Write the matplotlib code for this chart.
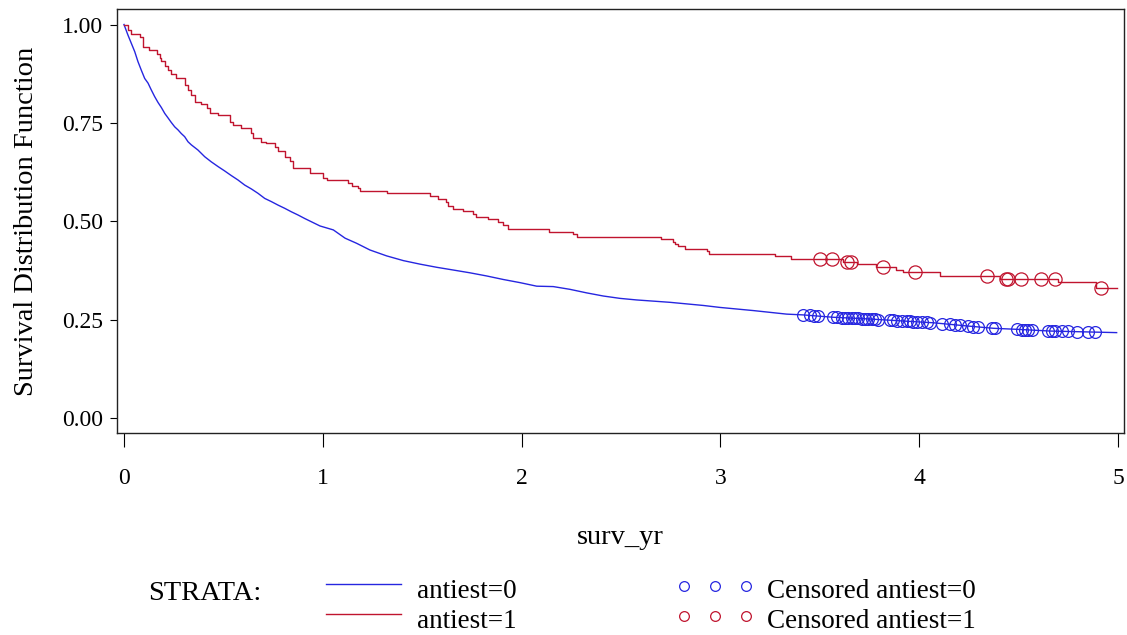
import numpy as np
import matplotlib
matplotlib.use("Agg")
import matplotlib.pyplot as plt

plt.rcParams['font.family'] = ['Liberation Serif', 'DejaVu Serif']

# Kaplan-Meier estimates (time in years, survival)
blue_t = [0, 0.020, 0.037, 0.054, 0.070, 0.087, 0.104, 0.121, 0.137, 0.154,
          0.171, 0.188, 0.205, 0.221, 0.238, 0.255, 0.272, 0.288, 0.305, 0.322,
          0.339, 0.372, 0.406, 0.439, 0.473, 0.506, 0.540, 0.573, 0.607, 0.641,
          0.674, 0.708, 0.741, 0.775, 0.808, 0.842, 0.875, 0.909, 0.986, 1.053,
          1.112, 1.170, 1.237, 1.321, 1.405, 1.489, 1.573, 1.657, 1.740, 1.824,
          1.908, 1.992, 2.076, 2.159, 2.243, 2.327, 2.411, 2.495, 2.579, 2.663,
          2.746, 2.830, 2.914, 2.998, 3.166, 3.333, 3.416, 3.568, 3.736, 3.903,
          4.071, 4.239, 4.373, 4.507, 4.658, 4.825, 4.993]
blue_s = [1.0, 0.973, 0.952, 0.931, 0.906, 0.884, 0.863, 0.851, 0.834, 0.817,
          0.802, 0.789, 0.774, 0.763, 0.751, 0.740, 0.732, 0.723, 0.715, 0.702,
          0.694, 0.681, 0.664, 0.651, 0.639, 0.628, 0.616, 0.605, 0.592, 0.582,
          0.571, 0.558, 0.550, 0.541, 0.533, 0.524, 0.516, 0.507, 0.488, 0.478,
          0.457, 0.444, 0.427, 0.412, 0.400, 0.391, 0.383, 0.376, 0.369, 0.361,
          0.352, 0.344, 0.335, 0.334, 0.327, 0.318, 0.310, 0.304, 0.300, 0.297,
          0.294, 0.290, 0.286, 0.281, 0.273, 0.264, 0.262, 0.256, 0.252, 0.247,
          0.242, 0.234, 0.228, 0.225, 0.221, 0.219, 0.217]

red_t = [0, 0.020, 0.037, 0.079, 0.096, 0.124, 0.168, 0.180, 0.188, 0.205,
         0.221, 0.238, 0.263, 0.305, 0.322, 0.339, 0.355, 0.389, 0.419, 0.431,
         0.473, 0.532, 0.548, 0.590, 0.641, 0.649, 0.691, 0.716, 0.758, 0.774,
         0.808, 0.833, 0.850, 0.934, 1.001, 1.023, 1.128, 1.149, 1.179, 1.187,
         1.321, 1.539, 1.581, 1.620, 1.631, 1.653, 1.704, 1.757, 1.771, 1.833,
         1.880, 1.905, 1.933, 2.139, 2.257, 2.280, 2.700, 2.760, 2.772, 2.788,
         2.822, 2.931, 2.941, 3.275, 3.355, 3.618, 3.686, 3.783, 3.882, 3.917,
         4.105, 4.406, 4.700, 4.889, 4.993]
red_s = [1.0, 0.985, 0.975, 0.967, 0.944, 0.935, 0.924, 0.914, 0.906, 0.895,
         0.884, 0.873, 0.863, 0.846, 0.834, 0.821, 0.804, 0.797, 0.787, 0.776,
         0.770, 0.753, 0.745, 0.738, 0.724, 0.712, 0.702, 0.698, 0.689, 0.679,
         0.664, 0.652, 0.636, 0.622, 0.609, 0.604, 0.596, 0.590, 0.584, 0.578,
         0.571, 0.565, 0.557, 0.550, 0.540, 0.531, 0.527, 0.518, 0.510, 0.506,
         0.499, 0.490, 0.481, 0.473, 0.468, 0.461, 0.456, 0.448, 0.442, 0.436,
         0.429, 0.424, 0.418, 0.412, 0.403, 0.397, 0.391, 0.384, 0.376, 0.370,
         0.362, 0.353, 0.346, 0.330, 0.330]

# censoring times
blue_cens = [3.417, 3.451, 3.472, 3.492, 3.568, 3.585, 3.610, 3.627, 3.643, 3.660,
             3.677, 3.694, 3.711, 3.727, 3.744, 3.761, 3.778, 3.794, 3.853, 3.870,
             3.887, 3.912, 3.937, 3.954, 3.970, 3.987, 4.013, 4.038, 4.054, 4.113,
             4.155, 4.180, 4.205, 4.247, 4.272, 4.297, 4.365, 4.381, 4.490, 4.516,
             4.532, 4.548, 4.566, 4.649, 4.666, 4.683, 4.717, 4.750, 4.792, 4.851,
             4.884]
red_cens = [3.501, 3.562, 3.635, 3.655, 3.820, 3.979, 4.339, 4.437, 4.448, 4.510,
            4.611, 4.683, 4.914]

strata = ["antiest=0", "antiest=1"]
col_blue = "#2626E0"
col_red = "#C0142E"


def surv_at(t, s, c):
    idx = np.searchsorted(t, c, side="right") - 1
    return np.array(s)[idx]


fig = plt.figure(figsize=(11.27, 6.35), dpi=100)
ax = fig.add_axes([117 / 1127, 1 - 433 / 635, 1007 / 1127, 424 / 635])

# the large stratum has many tiny steps, so a plain line reads the same
ax.plot(blue_t, blue_s, color=col_blue, lw=1.0)
ax.plot(red_t, red_s, drawstyle="steps-post", color=col_red, lw=1.0)
ax.plot(blue_cens, np.interp(blue_cens, blue_t, blue_s), "o", mfc="none",
        mec=col_blue, ms=8.5, mew=0.9)
ax.plot(red_cens, surv_at(red_t, red_s, red_cens), "o", mfc="none",
        mec=col_red, ms=9.5, mew=0.9)

ax.set_xlim(-0.0352, 5.030)
ax.set_ylim(-0.0381, 1.0394)
ax.set_xticks([0, 1, 2, 3, 4, 5])
ax.set_xticklabels(["0", "1", "2", "3", "4", "5"])
ax.set_yticks([0, 0.25, 0.5, 0.75, 1.0])
ax.set_yticklabels(["0.00", "0.25", "0.50", "0.75", "1.00"])
ax.tick_params(axis="x", length=10, width=0.8, pad=15, labelsize=17)
ax.tick_params(axis="y", length=5, width=0.8, pad=5, labelsize=17)
for sp in ax.spines.values():
    sp.set_linewidth(1.0)
    sp.set_color("#222222")

fig.text(27 / 1127, 1 - 221 / 635, "Survival Distribution Function",
         rotation=90, ha="center", va="center", fontsize=20.5)
fig.text(620 / 1127, 1 - 537 / 635, "surv_yr", ha="center", va="center",
         fontsize=20.5)

# legend drawn in pixel space
lax = fig.add_axes([0, 0, 1, 1])
lax.set_xlim(0, 1127)
lax.set_ylim(635, 0)
lax.axis("off")
lax.text(148, 593, "STRATA:", ha="left", va="center", fontsize=20.5)
for i, (c, lab) in enumerate(zip([col_blue, col_red], strata)):
    ly = 584 + 30 * i
    lax.plot([326, 401], [ly, ly], color=c, lw=1.0)
    lax.text(417, 592 + 29 * i, lab, ha="left", va="center", fontsize=19.5)
    lax.plot([684, 715, 746], [586 + 30 * i] * 3, "o", mfc="none", mec=c,
             ms=7, mew=0.9)
    lax.text(767, 592 + 29 * i, "Censored " + lab, ha="left", va="center",
             fontsize=19.5)

fig.savefig("out.png", dpi=100)
